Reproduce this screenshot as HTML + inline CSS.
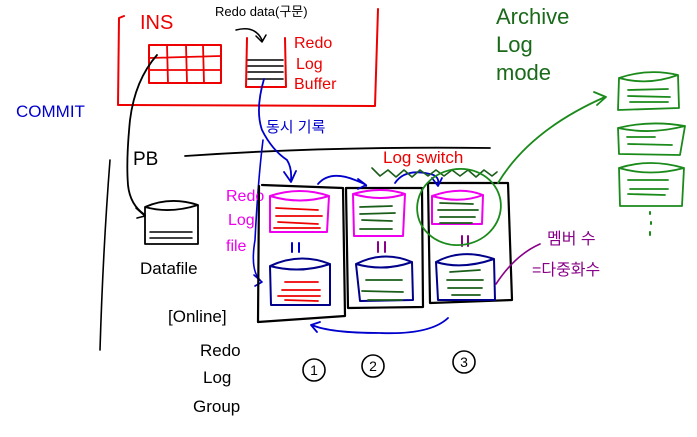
<!DOCTYPE html>
<html><head><meta charset="utf-8"><style>
html,body{margin:0;padding:0;background:#fff;}
svg{display:block;}
text{font-family:"Liberation Sans","Noto Sans CJK KR",sans-serif;}
</style></head><body>
<svg width="697" height="437" viewBox="0 0 697 437" xmlns="http://www.w3.org/2000/svg" fill="none" stroke-linecap="round" stroke-linejoin="round">
<path d="M124 16 L119 18 L118 105 L375 106 L378 9" stroke="#e00" stroke-width="2"/>
<text x="140" y="29" fill="#e00" font-size="20" stroke="none">INS</text>
<rect x="149" y="45" width="72" height="38" stroke="#e00" stroke-width="2"/>
<path d="M149 58 L221 56 M149 70 L221 70 M167 45 L168 83 M186 45 L187 83 M203 45 L204 83" stroke="#e00" stroke-width="1.8"/>
<path d="M247 38 L246 87 L286 87 L285 38" stroke="#e00" stroke-width="2"/>
<path d="M248 60 L283 60 M248 66 L283 66 M248 72 L283 72 M248 79 L283 79" stroke="#000" stroke-width="1.6"/>
<text x="215" y="16" fill="#000" font-size="13" stroke="none">Redo data(구문)</text>
<path d="M236 30 Q255 25 262 40 M256 36 L262 42 L266 35" stroke="#000" stroke-width="1.5"/>
<text fill="#e00" font-size="16" stroke="none"><tspan x="294" y="48">Redo</tspan><tspan x="296" y="69">Log</tspan><tspan x="294" y="89">Buffer</tspan></text>
<text x="16" y="117" fill="#00c" font-size="17" stroke="none">COMMIT</text>
<text x="133" y="165" fill="#000" font-size="19" stroke="none">PB</text>
<path d="M185 156 Q330 146 490 148" stroke="#000" stroke-width="1.8"/>
<path d="M157 55 Q135 80 130 120 Q126 160 128 185 Q130 205 145 215" stroke="#000" stroke-width="1.8"/>
<path d="M136 208 L145 216 L137 218" stroke="#000" stroke-width="1.6"/>
<path d="M110 160 Q103 250 100 350" stroke="#000" stroke-width="1.6"/>
<path d="M145 207 Q170 196 198 205 L198 244 L145 244 Z M145 207 Q170 214 198 205" stroke="#000" stroke-width="1.8"/>
<path d="M150 232 L192 232 M150 238 L192 238" stroke="#000" stroke-width="1.5"/>
<text x="140" y="274" fill="#000" font-size="17" stroke="none">Datafile</text>
<path d="M264 79 Q255 110 262 130 Q272 150 287 160 Q292 168 291 180 M284 172 L291 182 L296 171" stroke="#00c" stroke-width="1.8"/>
<text x="266" y="132" fill="#00c" font-size="15" stroke="none">동시 기록</text>
<path d="M263 140 Q258 180 255 240 Q250 270 260 280 M254 275 L262 282 L255 286" stroke="#00c" stroke-width="1.6"/>
<text fill="#e0e" font-size="16" stroke="none"><tspan x="226" y="201">Redo</tspan><tspan x="228" y="225">Log</tspan><tspan x="226" y="251">file</tspan></text>
<path d="M262 185 L343 188 L345 316 L258 322 L259 186" stroke="#000" stroke-width="2.2"/>
<path d="M346 188 L422 188 L423 307 L348 308 Z" stroke="#000" stroke-width="2.2"/>
<path d="M428 183 L508 183 L512 300 L430 303 Z" stroke="#000" stroke-width="2.2"/>
<g stroke="#e0e" stroke-width="2">
<path d="M270 196 Q300 186 329 196 L327 232 L270 232 Z M270 196 Q300 205 329 196"/>
<path d="M353 194 Q381 186 405 194 L403 236 L354 236 Z M353 194 Q381 202 405 194"/>
<path d="M432 196 Q460 186 483 195 L482 224 L432 224 Z M432 196 Q460 204 483 195"/>
</g>
<g stroke="#e00" stroke-width="1.8"><path d="M276 208 L318 210 M276 216 L322 216 M278 222 L318 224 M274 228 L320 228"/></g>
<g stroke="#1a5e1a" stroke-width="1.8"><path d="M360 207 L392 206 M360 214 L395 213 M362 220 L392 221 M360 229 L392 229 M440 203 L473 204 M438 210 L478 210 M440 217 L475 217 M440 223 L472 223"/></g>
<path d="M292 243 L292 252 M299 243 L299 252" stroke="#00c" stroke-width="2"/>
<path d="M378 242 L378 252 M385 242 L385 252" stroke="#808" stroke-width="2"/>
<path d="M462 236 L462 246 M468 236 L468 246" stroke="#808" stroke-width="2"/>
<g stroke="#00008b" stroke-width="2">
<path d="M270 266 Q300 252 330 264 L330 305 L271 305 Z M270 266 Q300 274 330 264"/>
<path d="M356 264 Q384 250 412 262 L413 300 L360 301 Z M356 264 Q384 272 412 262"/>
<path d="M436 262 Q462 248 494 259 L495 300 L438 300 Z M436 262 Q462 270 494 259"/>
</g>
<g stroke="#e00" stroke-width="1.8"><path d="M285 282 L318 282 M282 290 L320 290 M278 296 L320 296 M285 300 L318 301"/></g>
<g stroke="#1a5e1a" stroke-width="1.8"><path d="M366 280 L402 280 M362 291 L403 292 M368 300 L402 300 M450 272 L480 270 M447 280 L483 280 M448 288 L482 288 M452 295 L480 295"/></g>
<path d="M318 184 Q330 170 355 180 Q368 185 366 186 M358 179 L366 185 L358 189" stroke="#00c" stroke-width="1.8"/>
<path d="M395 183 Q405 168 430 174 Q440 176 438 185 M432 178 L438 186 L442 178" stroke="#00c" stroke-width="1.8"/>
<path d="M448 318 Q430 335 380 333 Q330 333 312 325 M320 322 L311 325 L317 332" stroke="#00c" stroke-width="1.8"/>
<text x="383" y="163" fill="#e00" font-size="17" stroke="none">Log switch</text>
<path d="M372 168 L380 176 L388 170 L396 177 L404 170 L412 177 L420 170 L428 176 L436 170 L444 176 L452 170 L460 176 L468 170 L476 177 L484 170 L492 176 L497 172" stroke="#1a5e1a" stroke-width="1.6"/>
<ellipse cx="459" cy="207" rx="42" ry="38" stroke="#1a8a1a" stroke-width="1.8" transform="rotate(-10 459 207)"/>
<path d="M498 183 Q530 130 605 97 M594 92 L606 97 L597 105" stroke="#1a8a1a" stroke-width="1.8"/>
<g stroke="#1a8a1a" stroke-width="1.8">
<path d="M619 78 Q648 68 678 75 L679 108 L618 110 Z M619 78 Q648 86 678 75"/>
<path d="M618 128 Q650 120 685 126 L680 155 L619 154 Z M618 128 Q650 135 685 126"/>
<path d="M619 168 Q650 158 684 168 L682 206 L620 206 Z M619 168 Q650 177 684 168"/>
<path d="M628 90 L668 89 M628 96 L670 97 M630 102 L668 102 M627 137 L655 137 M628 144 L672 145 M628 180 L668 180 M630 189 L668 189 M628 194 L665 195"/>
<path d="M650 212 L650 214 M651 222 L651 224 M650 232 L650 235" stroke-width="2"/>
</g>
<text fill="#1a6a1a" font-size="22" stroke="none"><tspan x="496" y="24">Archive</tspan><tspan x="496" y="52">Log</tspan><tspan x="496" y="80">mode</tspan></text>
<path d="M496 284 Q515 255 540 244" stroke="#808" stroke-width="1.6"/>
<text fill="#808" font-size="16" stroke="none"><tspan x="547" y="244">멤버 수</tspan><tspan x="532" y="275">=다중화수</tspan></text>
<text x="168" y="322" fill="#000" font-size="17" stroke="none">[Online]</text>
<text fill="#000" font-size="17" stroke="none"><tspan x="200" y="356">Redo</tspan><tspan x="203" y="383">Log</tspan><tspan x="193" y="412">Group</tspan></text>
<g stroke="#000" stroke-width="1.6">
<circle cx="314" cy="370" r="11"/><circle cx="373" cy="366" r="11"/><circle cx="464" cy="362" r="11"/>
</g>
<text fill="#000" font-size="14" stroke="none" text-anchor="middle"><tspan x="314" y="375">1</tspan><tspan x="373" y="371">2</tspan><tspan x="464" y="367">3</tspan></text>
</svg>
</body></html>
